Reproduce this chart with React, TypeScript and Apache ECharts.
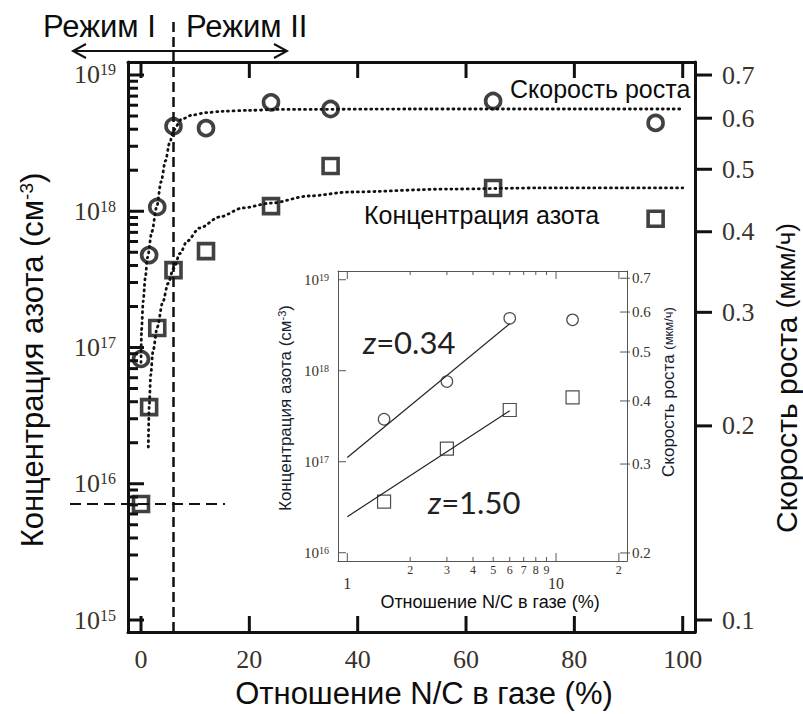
import { useEffect, useRef } from "react";
import * as echarts from "echarts";

// Measured points: N/C ratio in the gas (%), nitrogen concentration (cm^-3), growth rate (µm/h)
const ratio = [0, 1.5, 3, 6, 12, 24, 35, 65, 95];
const nitrogen = [7.1e15, 3.65e16, 1.39e17, 3.7e17, 5.1e17, 1.09e18, 2.15e18, 1.48e18, 8.8e17];
const growthRate = [0.254, 0.368, 0.437, 0.583, 0.579, 0.635, 0.62, 0.638, 0.59];

// Dotted trend curves
const rateTrendX = [0, 0.1, 0.4, 0.8, 1.2, 2.0, 2.9, 3.7, 4.5, 5.3, 6.0, 7.5, 9.5, 12, 15, 20, 25, 50, 100];
const rateTrendY = [0.251, 0.282, 0.312, 0.34, 0.365, 0.4, 0.437, 0.478, 0.515, 0.55, 0.575, 0.598, 0.607, 0.612, 0.615, 0.617, 0.619, 0.62, 0.62];
const nitrogenTrendX = [1.35, 1.5, 1.8, 2.2, 3.0, 4.0, 5.0, 6.0, 7.2, 8.5, 10.8, 14.5, 18.8, 24, 31, 38.5, 57, 74, 100];
const nitrogenTrendY = [1.86e16, 3.63e16, 6.31e16, 9.33e16, 1.41e17, 2.14e17, 2.95e17, 3.8e17, 4.9e17, 6.03e17, 7.53e17, 9.08e17, 1.057e18, 1.148e18, 1.294e18, 1.384e18, 1.455e18, 1.483e18, 1.483e18];

// Inset: regime I points on log-log axes with power-law fits
const insetRatio = ratio.slice(1, 5);
const insetNitrogen = nitrogen.slice(1, 5);
const insetRate = growthRate.slice(1, 5);
const rateLawX = [1, 6];
const rateLawY = [0.309, 0.569];
const nitrogenLawX = [1, 6];
const nitrogenLawY = [2.49e16, 3.63e17];
const rateExponent = "0.34";
const nitrogenExponent = "1.50";

// Tick values
const mainXTicks = [0, 20, 40, 60, 80, 100];
const nitrogenDecades = [15, 16, 17, 18, 19];
const rateTicks = [0.1, 0.2, 0.3, 0.4, 0.5, 0.6, 0.7];
const insetMinorX = [2, 3, 4, 5, 6, 7, 8, 9];
const insetMajorX = [1, 10, 20];
const insetLabelSmall = [2, 3, 4, 5, 6, 7, 8, 9, 20];
const insetLabelBig = [1, 10];
const insetDecades = [16, 17, 18, 19];
const insetRateTicks = [0.2, 0.3, 0.4, 0.5, 0.6, 0.7];

// Annotations
const regimeBoundary = 6;
const backgroundLevel = 7.1e15;
const backgroundDashEnd = 15.5;

const lg = Math.log10;
const SERIF = "'Liberation Serif', 'Times New Roman', serif";
const SANS = "'Liberation Sans', Arial, sans-serif";
const INK = "#111";
const TICK_INK = "#3b3229";
const INSET_INK = "#555";

const minorDecadeTicks: number[] = [];
for (let n = 15; n < 19; n++) for (let m = 2; m <= 9; m++) minorDecadeTicks.push(n + lg(m));

const pairs = (xs: number[], ys: number[], fx: (v: number) => number) =>
  xs.map((x, i) => [fx(x), lg(ys[i])]);
const same = (v: number) => v;

const MAIN_X = { min: -2.4, max: 102.27 };
const MAIN_N = { min: 14.912, max: 19.0954 };
const MAIN_R = { min: -1.0186, max: -0.1347 };
const INSET_X = { min: -0.0446, max: 1.34 };
const INSET_N = { min: 15.909, max: 19.096 };
const INSET_R = { min: -0.7149, max: -0.1406 };

function axisBase(lineColor: string, lineWidth: number, extra: any) {
  return {
    type: "value",
    splitLine: { show: false },
    axisTick: { show: false },
    axisLine: { show: true, onZero: false, lineStyle: { color: lineColor, width: lineWidth } },
    ...extra,
  };
}
const mainAxis = (extra: any) => axisBase(INK, 3, extra);
const insetAxis = (extra: any) => axisBase(INSET_INK, 1, extra);

export default function App() {
  const ref = useRef<HTMLDivElement>(null);

  useEffect(() => {
    if (!ref.current) return;
    const chart = echarts.init(ref.current, null, { renderer: "svg" });

    const option: any = {
      animation: false,
      backgroundColor: "#fff",
      grid: [
        { left: 128, top: 62, width: 567, height: 570, show: false, containLabel: false },
        { left: 338, top: 271, width: 289, height: 290, show: false, containLabel: false },
      ],
      xAxis: [
        mainAxis({
          gridIndex: 0, position: "bottom", ...MAIN_X,
          axisLabel: { customValues: mainXTicks, margin: 14, fontFamily: SERIF, fontSize: 26, color: TICK_INK },
        }),
        mainAxis({ gridIndex: 0, position: "top", ...MAIN_X, axisLabel: { show: false } }),
        insetAxis({
          gridIndex: 1, position: "bottom", ...INSET_X,
          axisLabel: {
            customValues: insetLabelSmall.map(lg), margin: 3, fontFamily: SERIF, fontSize: 12, color: TICK_INK,
            formatter: (v: number) => { const n = Math.round(10 ** v); return String(n >= 10 ? n / 10 : n); },
          },
        }),
        insetAxis({
          gridIndex: 1, position: "bottom", ...INSET_X,
          axisLabel: {
            customValues: insetLabelBig.map(lg), margin: 14, fontFamily: SERIF, fontSize: 16, color: TICK_INK,
            formatter: (v: number) => String(Math.round(10 ** v)),
          },
        }),
        insetAxis({ gridIndex: 1, position: "top", ...INSET_X, axisLabel: { show: false } }),
      ],
      yAxis: [
        mainAxis({
          gridIndex: 0, position: "left", ...MAIN_N,
          axisLabel: {
            customValues: nitrogenDecades, margin: 12, color: TICK_INK,
            formatter: (v: number) => `{b|10}{s|${Math.round(v)}}`,
            rich: {
              b: { fontFamily: SERIF, fontSize: 26, lineHeight: 26, verticalAlign: "bottom", color: TICK_INK },
              s: { fontFamily: SERIF, fontSize: 16, lineHeight: 16, verticalAlign: "top", padding: [0, 0, 14, 0], color: TICK_INK },
            },
          },
        }),
        mainAxis({
          gridIndex: 0, position: "right", ...MAIN_R,
          axisLabel: {
            customValues: rateTicks.map(lg), margin: 27, fontFamily: SERIF, fontSize: 26, color: TICK_INK,
            formatter: (v: number) => (10 ** v).toFixed(1),
          },
        }),
        insetAxis({
          gridIndex: 1, position: "left", ...INSET_N,
          axisLabel: {
            customValues: insetDecades, margin: 9, color: TICK_INK,
            formatter: (v: number) => `{b|10}{s|${Math.round(v)}}`,
            rich: {
              b: { fontFamily: SERIF, fontSize: 15, lineHeight: 15, verticalAlign: "bottom", color: TICK_INK },
              s: { fontFamily: SERIF, fontSize: 10, lineHeight: 10, verticalAlign: "top", padding: [0, 0, 8, 0], color: TICK_INK },
            },
          },
        }),
        insetAxis({
          gridIndex: 1, position: "right", ...INSET_R,
          axisLabel: {
            customValues: insetRateTicks.map(lg), margin: 5, fontFamily: SERIF, fontSize: 15, color: TICK_INK,
            formatter: (v: number) => (10 ** v).toFixed(1),
          },
        }),
      ],
      series: [
        {
          type: "line", xAxisIndex: 0, yAxisIndex: 1, data: pairs(rateTrendX, rateTrendY, same),
          showSymbol: false, smooth: 0.3, smoothMonotone: "x",
          lineStyle: { color: INK, width: 2.8, type: [1, 4.5], cap: "round" }, z: 2,
        },
        {
          type: "line", xAxisIndex: 0, yAxisIndex: 0, data: pairs(nitrogenTrendX, nitrogenTrendY, same),
          showSymbol: false, smooth: 0.3, smoothMonotone: "x",
          lineStyle: { color: INK, width: 2.8, type: [1, 4.5], cap: "round" }, z: 2,
        },
        {
          type: "scatter", xAxisIndex: 0, yAxisIndex: 1, data: pairs(ratio, growthRate, same),
          symbol: "circle", symbolSize: 15,
          itemStyle: { color: "rgba(255,255,255,0)", borderColor: INK, borderWidth: 3.6 }, z: 3,
        },
        {
          type: "scatter", xAxisIndex: 0, yAxisIndex: 0, data: pairs(ratio, nitrogen, same),
          symbol: "rect", symbolSize: 15,
          itemStyle: { color: "rgba(255,255,255,0)", borderColor: INK, borderWidth: 3.6 }, z: 3,
        },
        {
          type: "line", xAxisIndex: 2, yAxisIndex: 3, data: pairs(rateLawX, rateLawY, lg),
          showSymbol: false, lineStyle: { color: "#222", width: 1.2 },
        },
        {
          type: "line", xAxisIndex: 2, yAxisIndex: 2, data: pairs(nitrogenLawX, nitrogenLawY, lg),
          showSymbol: false, lineStyle: { color: "#222", width: 1.2 },
        },
        {
          type: "scatter", xAxisIndex: 2, yAxisIndex: 3, data: pairs(insetRatio, insetRate, lg),
          symbol: "circle", symbolSize: 11.5,
          itemStyle: { color: "rgba(255,255,255,0)", borderColor: "#222", borderWidth: 1.2 },
        },
        {
          type: "scatter", xAxisIndex: 2, yAxisIndex: 2, data: pairs(insetRatio, insetNitrogen, lg),
          symbol: "rect", symbolSize: 13,
          itemStyle: { color: "rgba(255,255,255,0)", borderColor: "#222", borderWidth: 1.2 },
        },
      ],
    };
    chart.setOption(option);

    const toPx = (xi: number, yi: number, p: number[]) =>
      chart.convertToPixel({ xAxisIndex: xi, yAxisIndex: yi }, p) as number[];

    // Tick marks as filled bars, placed on the frame through the axes' scales
    const ticks: any[] = [];
    const bar = (x: number, y: number, w: number, h: number, color: string) => {
      ticks.push({
        type: "rect",
        shape: { x: Math.min(x, x + w), y: Math.min(y, y + h), width: Math.abs(w), height: Math.abs(h) },
        style: { fill: color },
        z: 30,
      });
    };
    const vTick = (p: number[], len: number, w: number, color: string) => bar(p[0] - w / 2, p[1], w, len, color);
    const hTick = (p: number[], len: number, w: number, color: string) => bar(p[0], p[1] - w / 2, len, w, color);

    mainXTicks.forEach((v) => {
      vTick(toPx(0, 0, [v, MAIN_N.min]), -16, 3, INK);
      vTick(toPx(0, 0, [v, MAIN_N.max]), 16, 3, INK);
    });
    nitrogenDecades.forEach((v) => hTick(toPx(0, 0, [MAIN_X.min, v]), 16, 3, INK));
    minorDecadeTicks.forEach((v) => hTick(toPx(0, 0, [MAIN_X.min, v]), 10, 3, INK));
    rateTicks.forEach((v) => hTick(toPx(0, 1, [MAIN_X.max, lg(v)]), 17, 3, INK));
    const insetX = (values: number[], len: number) =>
      values.forEach((v) => {
        vTick(toPx(2, 2, [lg(v), INSET_N.min]), -len, 1, INSET_INK);
        vTick(toPx(2, 2, [lg(v), INSET_N.max]), len, 1, INSET_INK);
      });
    insetX(insetMajorX, 8);
    insetX(insetMinorX, 4);
    insetDecades.forEach((v) => hTick(toPx(2, 2, [INSET_X.min, v]), 8, 1, INSET_INK));
    insetRateTicks.forEach((v) => {
      const p = toPx(2, 3, [INSET_X.max, lg(v)]);
      hTick([p[0] + 3, p[1]], -10, 1, INSET_INK);
    });

    const [bx] = toPx(0, 0, [regimeBoundary, 16]);
    const [, gridBottom] = toPx(0, 0, [0, MAIN_N.min]);
    const [hx, hy] = toPx(0, 0, [backgroundDashEnd, lg(backgroundLevel)]);

    const text = (x: number, y: number, t: string, fontSize: number, align = "left", fill = "#0d0d0d") => ({
      type: "text", x, y,
      style: {
        text: t, fontFamily: SANS, fontSize, fill,
        align, verticalAlign: "middle", textAlign: align, textVerticalAlign: "middle",
      },
    });
    const rotated = (x: number, y: number, t: string, rich: any) => ({
      type: "text", x, y, rotation: Math.PI / 2,
      style: {
        text: t, rich,
        align: "center", verticalAlign: "middle", textAlign: "center", textVerticalAlign: "middle",
      },
    });
    const zLabel = (x: number, y: number, exponent: string) => ({
      type: "text", x, y,
      style: {
        text: `{i|z}{n|=${exponent}}`, align: "left", verticalAlign: "middle", textAlign: "left", textVerticalAlign: "middle",
        rich: {
          i: { fontFamily: "Lato, 'Open Sans', sans-serif", fontStyle: "italic", fontSize: 31, fill: "#222", color: "#222" },
          n: { fontFamily: "Lato, 'Open Sans', sans-serif", fontSize: 31, fill: "#222", color: "#222" },
        },
      },
    });
    const sans = (size: number, fill: string, extra: any = {}) => ({ fontFamily: SANS, fontSize: size, lineHeight: size, fill, color: fill, ...extra });

    chart.setOption({
      graphic: {
        elements: [
          { type: "group", id: "frame-ticks", children: ticks },
          { type: "line", shape: { x1: bx, y1: 22, x2: bx, y2: gridBottom }, style: { stroke: INK, lineWidth: 2.5, lineDash: [10, 5] }, z: 10 },
          { type: "line", shape: { x1: 70, y1: hy, x2: hx, y2: hy }, style: { stroke: INK, lineWidth: 2, lineDash: [11, 6] }, z: 10 },
          { type: "line", shape: { x1: 73, y1: 51, x2: 287, y2: 51 }, style: { stroke: INK, lineWidth: 2 } },
          { type: "polyline", shape: { points: [[86, 44], [73, 51], [86, 58]] }, style: { stroke: INK, lineWidth: 2, fill: "none" } },
          { type: "polyline", shape: { points: [[274, 44], [287, 51], [274, 58]] }, style: { stroke: INK, lineWidth: 2, fill: "none" } },
          text(43, 26, "Режим I", 31),
          text(186, 26, "Режим II", 31),
          text(510, 89, "Скорость роста", 25),
          text(364, 215, "Концентрация азота", 25),
          text(424, 693, "Отношение N/C в газе (%)", 31, "center"),
          rotated(32, 360, "{a|Концентрация азота (см}{s|-3}{a|)}", {
            a: sans(31, "#0d0d0d", { verticalAlign: "bottom" }),
            s: sans(19, "#0d0d0d", { verticalAlign: "top", padding: [0, 0, 16, 0] }),
          }),
          rotated(786, 378, "{a|Скорость роста }{p|(мкм/ч)}", {
            a: sans(30, "#0d0d0d"),
            p: sans(26, "#0d0d0d", { lineHeight: 30 }),
          }),
          // inset titles
          text(490, 602, "Отношение N/C в газе (%)", 18, "center"),
          rotated(285, 408, "{a|Концентрация азота (см}{s|-3}{a|)}", {
            a: sans(17, "#14202e", { verticalAlign: "bottom" }),
            s: sans(11, "#14202e", { verticalAlign: "top", padding: [0, 0, 9, 0] }),
          }),
          rotated(668, 392, "{a|Скорость роста }{p|(мкм/ч)}", {
            a: sans(17, "#14202e"),
            p: sans(13, "#14202e", { lineHeight: 17 }),
          }),
          zLabel(363, 342, rateExponent),
          zLabel(428, 502, nitrogenExponent),
        ],
      },
    });

    return () => chart.dispose();
  }, []);

  return (
    <div
      ref={ref}
      style={{ position: "fixed", left: 0, top: 0, width: 803, height: 714, background: "#fff" }}
    />
  );
}
